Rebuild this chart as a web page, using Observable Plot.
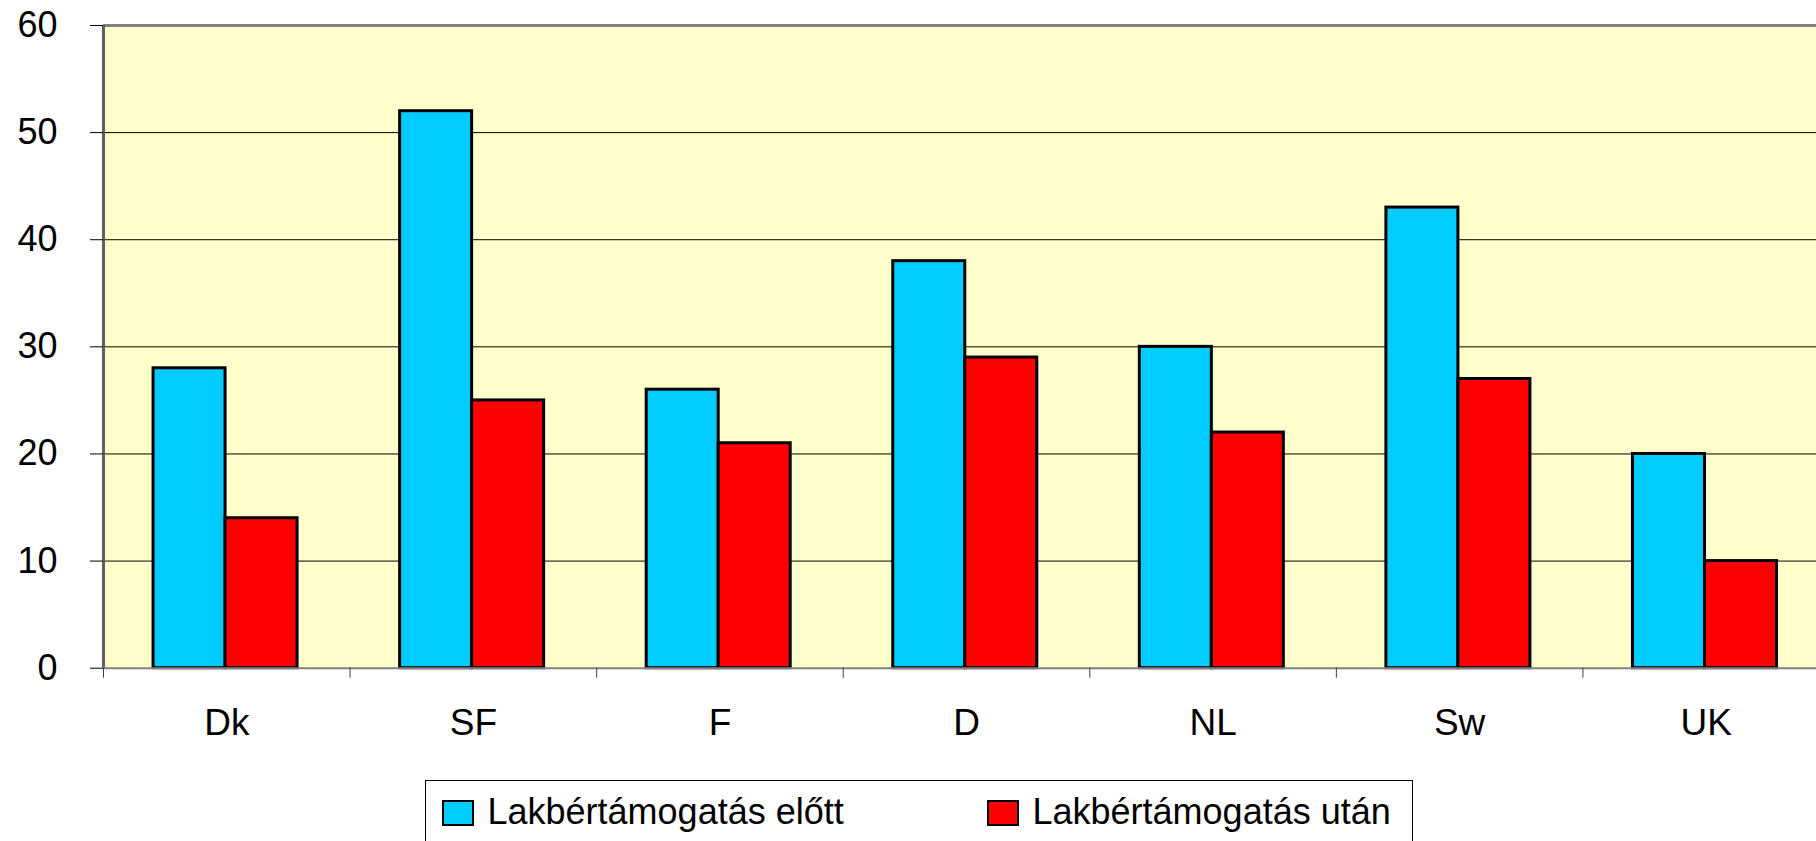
<!DOCTYPE html>
<html><head><meta charset="utf-8">
<script src="https://cdn.jsdelivr.net/npm/d3@7"></script>
<script src="https://cdn.jsdelivr.net/npm/@observablehq/plot@0.6"></script>
<style>
html,body{margin:0;padding:0;background:#fff;overflow:hidden;width:1816px;height:841px;position:relative;}
#chart{width:1829px;}
#chart svg{display:block;max-width:none;}
.legend{position:absolute;left:425px;top:780px;width:988px;height:80px;border:1.5px solid #000;box-sizing:border-box;font:36px "Liberation Sans",Arial,sans-serif;color:#000;}
.sw{position:absolute;top:18.5px;width:32px;height:26px;border:2.5px solid #000;box-sizing:border-box;}
.lt{position:absolute;top:13px;line-height:1;white-space:nowrap;}
</style>
</head><body>
<div id="chart"></div>
<div class="legend" id="legend"></div>
<script>
const countries = ["Dk", "SF", "F", "D", "NL", "Sw", "UK"];
const before = [28, 52, 26, 38, 30, 43, 20];
const after = [14, 25, 21, 29, 22, 27, 10];
const seriesNames = ["Lakbértámogatás előtt", "Lakbértámogatás után"];
const seriesColors = ["#00CCFF", "#FF0000"];
const yTicks = [0, 10, 20, 30, 40, 50, 60];
const gridValues = [10, 20, 30, 40, 50];

const groupPadding = 0.203, barWidth = 0.292;
const rows = countries.flatMap((c, i) => [before[i], after[i]].map((v, s) => ({
  country: c, series: seriesNames[s], value: v,
  x1: i + groupPadding + s * barWidth,
  x2: i + groupPadding + (s + 1) * barWidth
})));

const chart = Plot.plot({
  width: 1829, height: 775,
  marginLeft: 103, marginRight: 0, marginTop: 25, marginBottom: 107.3,
  x: {domain: [0, countries.length], axis: null, label: null},
  y: {domain: [0, 60], axis: null, label: null},
  color: {domain: seriesNames, range: seriesColors},
  style: {fontFamily: "'Liberation Sans', Arial, sans-serif", fontSize: "36px", color: "#000", background: "transparent", overflow: "visible"},
  marks: [
    Plot.frame({fill: "#FFFFCC", stroke: "none"}),
    Plot.ruleY(gridValues, {stroke: "#000", strokeWidth: 1}),
    Plot.ruleY([60], {stroke: "#808080", strokeWidth: 3}),
    Plot.rectY(rows, {x1: "x1", x2: "x2", y: "value", fill: "series", stroke: "#000", strokeWidth: 3}),
    Plot.ruleY([0], {stroke: "#808080", strokeWidth: 2}),
    Plot.ruleX([0], {stroke: "#606060", strokeWidth: 3}),
    Plot.axisY({ticks: yTicks, tickSize: 13, tickPadding: 33, fontSize: 36, anchor: "left", label: null}),
    Plot.axisX({ticks: d3.range(countries.length + 1), tickSize: 10, tickFormat: () => "", stroke: "#404040", label: null}),
    Plot.axisX({ticks: countries.map((c, i) => i + 0.5), tickSize: 0, tickPadding: 41, fontSize: 37, tickFormat: d => countries[Math.floor(d)], label: null})
  ]
});
document.getElementById("chart").appendChild(chart);

const legend = document.getElementById("legend");
const legendLeft = [15.5, 560.5];
seriesNames.forEach((name, i) => {
  const sw = document.createElement("div");
  sw.className = "sw";
  sw.style.left = legendLeft[i] + "px";
  sw.style.background = seriesColors[i];
  const t = document.createElement("div");
  t.className = "lt";
  t.style.left = (legendLeft[i] + 46) + "px";
  t.textContent = name;
  legend.appendChild(sw); legend.appendChild(t);
});
</script>
</body></html>
